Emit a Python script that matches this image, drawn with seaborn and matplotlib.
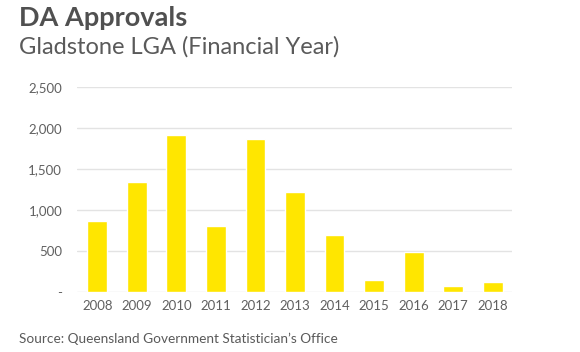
import seaborn as sns
import matplotlib.pyplot as plt
import pandas as pd
from matplotlib.ticker import FuncFormatter

# 数据
years = ['2008', '2009', '2010', '2011', '2012', '2013',
         '2014', '2015', '2016', '2017', '2018']
approvals = [860, 1345, 1913, 807, 1871, 1219, 697, 139, 482, 66, 119]

df = pd.DataFrame({'year': years, 'approvals': approvals})

sns.set_style('white')
plt.rcParams['font.family'] = ['Lato', 'DejaVu Sans']

fig = plt.figure(figsize=(5.8, 3.52), dpi=100)
ax = fig.add_axes([76.7 / 580, 1 - 291.7 / 352, (511.7 - 76.7) / 580, 204.4 / 352])

sns.barplot(data=df, x='year', y='approvals', color='#FFE600', saturation=1,
            width=0.5, ax=ax)

ax.set_ylim(0, 2500)
ax.set_xlim(-0.52, 10.48)
ax.set_yticks([0, 500, 1000, 1500, 2000, 2500])
ax.yaxis.set_major_formatter(FuncFormatter(lambda v, p: '-' if v == 0 else f'{v:,.0f}'))
ax.grid(axis='y', color='#E3E3E3', linewidth=1)
ax.set_axisbelow(True)
for s in ax.spines.values():
    s.set_visible(False)
ax.tick_params(axis='both', length=0, colors='#606060')
ax.tick_params(axis='y', pad=10.5, labelsize=9.5)
ax.tick_params(axis='x', pad=6, labelsize=9.5)
ax.set_xlabel('')
ax.set_ylabel('')

fig.text(19 / 580, 1 - 17.5 / 352, 'DA Approvals', fontsize=19.5, fontweight='bold',
         color='#505050', va='center', ha='left')
fig.text(19 / 580, 1 - 47 / 352, 'Gladstone LGA (Financial Year)', fontsize=17,
         color='#5A5A5A', va='center', ha='left')
fig.text(19 / 580, 1 - 339 / 352, "Source: Queensland Government Statistician\u2019s Office",
         fontsize=9.8, color='#5A5A5A', va='center', ha='left')

fig.savefig('out.png', dpi=100)
